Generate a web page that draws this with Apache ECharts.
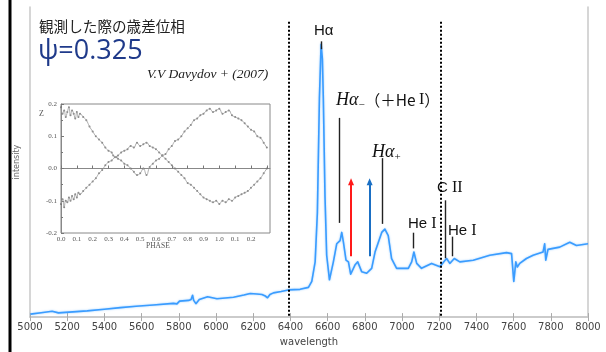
<!DOCTYPE html>
<html><head><meta charset="utf-8">
<script src="https://cdn.jsdelivr.net/npm/echarts@6/dist/echarts.min.js"></script>
<style>html,body{margin:0;padding:0;background:#fff}#c{width:606px;height:352px}</style>
</head><body><div id="c"></div>
<script>
// Spectrum: wavelength and intensity (arbitrary units)
const wavelength = [5003,5060,5119,5153,5230,5307,5400,5486,5570,5663,5771,5790,5804,5853,5866,5874,5880,5892,5910,5955,6005,6050,6094,6150,6184,6220,6247,6265,6277,6290,6309,6350,6389,6452,6497,6515,6533,6545,6556,6565,6572,6577,6586,6595,6610,6631,6649,6667,6676,6685,6699,6712,6724,6747,6762,6783,6810,6837,6855,6873,6891,6908,6926,6944,6971,7034,7052,7064,7079,7105,7159,7204,7225,7240,7257,7281,7311,7383,7472,7562,7589,7601,7612,7620,7633,7669,7705,7758,7767,7773,7785,7848,7902,7938,8000];
const intensity = [3,4.5,6,4.3,5.3,6.3,8,9.7,11,12.3,14,13.5,16.3,17,18,22.3,17,13.7,18,20.7,18.7,19.5,20.3,22.5,24,23.5,23,21.5,19.7,23,24.7,26,27.7,28.3,30.3,36.3,56.3,106.3,223,278,263,223,123,63,38,56.3,74.7,78,86.3,76.3,58,56.3,43.7,53,56.3,46.3,44.7,49.7,66.3,76.3,86.3,89.7,83,59.7,49.7,49.7,56.3,66.3,54.7,49.7,54.7,51.3,56.3,59.7,54.7,59.7,56.3,58,63,65.7,64.7,36.3,56.3,51,54.7,59.7,63,66.3,74.7,58,69,71.3,76.3,73,74.7];
const xTicks = {min:5000, max:8000, interval:200};

// Inset (Davydov 2007): Z vs PHASE, two branches
const branchA = [[0.00,0.19],[0.01,0.17],[0.02,0.18],[0.03,0.16],[0.04,0.175],[0.05,0.19],[0.06,0.165],[0.07,0.18],[0.08,0.17],[0.09,0.155],[0.10,0.175],[0.11,0.16],[0.12,0.17],[0.14,0.16],[0.16,0.15],[0.18,0.13],[0.20,0.115],[0.22,0.10],[0.24,0.09],[0.26,0.08],[0.28,0.065],[0.30,0.055],[0.32,0.05],[0.33,0.04],[0.35,0.035],[0.36,0.03],[0.38,0.025],[0.40,0.015],[0.42,0.01],[0.44,0.0],[0.46,-0.01],[0.48,-0.02],[0.50,-0.015],[0.52,0.0],[0.54,-0.02],[0.56,0.005],[0.58,0.015],[0.60,0.025],[0.62,0.03],[0.64,0.04],[0.66,0.045],[0.68,0.06],[0.70,0.07],[0.72,0.085],[0.74,0.09],[0.76,0.1],[0.78,0.115],[0.80,0.125],[0.82,0.135],[0.84,0.15],[0.86,0.155],[0.88,0.165],[0.90,0.17],[0.92,0.18],[0.94,0.185],[0.96,0.175],[0.98,0.18],[1.00,0.185],[1.02,0.17],[1.04,0.175],[1.06,0.18],[1.08,0.165],[1.10,0.16],[1.12,0.155],[1.14,0.15],[1.16,0.14],[1.18,0.13],[1.20,0.12],[1.22,0.115],[1.24,0.10],[1.26,0.095],[1.28,0.08],[1.30,0.065]];
const branchB = [[0.00,-0.11],[0.01,-0.095],[0.02,-0.12],[0.03,-0.10],[0.04,-0.105],[0.05,-0.09],[0.06,-0.1],[0.07,-0.085],[0.08,-0.095],[0.09,-0.08],[0.10,-0.09],[0.11,-0.075],[0.12,-0.08],[0.14,-0.07],[0.16,-0.06],[0.18,-0.05],[0.20,-0.04],[0.22,-0.03],[0.24,-0.015],[0.26,-0.005],[0.28,0.01],[0.30,0.02],[0.32,0.025],[0.34,0.035],[0.36,0.04],[0.38,0.05],[0.40,0.055],[0.42,0.06],[0.44,0.07],[0.46,0.065],[0.48,0.08],[0.50,0.07],[0.52,0.075],[0.54,0.08],[0.56,0.07],[0.58,0.065],[0.60,0.06],[0.62,0.05],[0.64,0.04],[0.66,0.03],[0.68,0.02],[0.70,0.01],[0.72,0.0],[0.74,-0.01],[0.76,-0.02],[0.78,-0.03],[0.80,-0.045],[0.82,-0.05],[0.84,-0.06],[0.86,-0.07],[0.88,-0.08],[0.90,-0.09],[0.92,-0.095],[0.94,-0.1],[0.96,-0.105],[0.98,-0.1],[1.00,-0.11],[1.02,-0.1],[1.04,-0.105],[1.06,-0.095],[1.08,-0.1],[1.10,-0.09],[1.12,-0.085],[1.14,-0.08],[1.16,-0.075],[1.18,-0.07],[1.20,-0.06],[1.22,-0.05],[1.24,-0.04],[1.26,-0.03],[1.28,-0.015],[1.30,0.0]];

// Reference lines and annotation markers (wavelength, intensity)
const dottedLines = [6389, 7209];
const dottedTop = 301;
const annotLines = [
  [[6565,281],[6565,273]],
  [[6660,203],[6660,96]],
  [[6896,162],[6896,95]],
  [[7063,86],[7063,70]],
  [[7234,119],[7234,60]],
  [[7272,82],[7272,62]]
];
const arrows = [
  {x:6726, from:62, to:138, color:'#ff1a1a'},
  {x:6826, from:62, to:138, color:'#1a6fc4'}
];

const chart = echarts.init(document.getElementById('c'));
const spec = wavelength.map((w,i)=>[w,intensity[i]]);
const sans = 'Liberation Sans, Arial, sans-serif';
const serif = 'Liberation Serif, Times New Roman, serif';

const mlData = [];
dottedLines.forEach(x=>mlData.push([{coord:[x,dottedTop],lineStyle:{type:[2,2],width:2,color:'#000'}},{coord:[x,0]}]));
annotLines.forEach(l=>mlData.push([{coord:l[0],lineStyle:{type:'solid',width:1.4,color:'#222'}},{coord:l[1]}]));
arrows.forEach(a=>mlData.push([{coord:[a.x,a.from],symbol:'none',lineStyle:{type:'solid',width:2,color:a.color}},{coord:[a.x,a.to],symbol:'triangle',symbolSize:[6,7],itemStyle:{color:a.color}}]));

const insetTickFmt = v => { if (v>1.25) return ''; let p = v>1.05 ? v-1 : v; return p.toFixed(1); };

chart.setOption({
  animation:false,
  backgroundColor:'#fff',
  grid:[
    {left:30, right:18, top:7, bottom:29},
    {left:61, top:104, width:209, height:129, show:true, borderColor:'#888', borderWidth:1, backgroundColor:'rgba(0,0,0,0)'}
  ],
  xAxis:[
    {gridIndex:0, type:'value', min:xTicks.min, max:xTicks.max, interval:xTicks.interval,
     axisLine:{lineStyle:{color:'#c8c8c8',width:1.5}}, axisTick:{inside:true,length:4,lineStyle:{color:'#aaa'}},
     axisLabel:{color:'#444',fontSize:10,fontFamily:'DejaVu Sans',margin:5,formatter:v=>String(v)}, splitLine:{show:false},
     name:'wavelength', nameLocation:'middle', nameGap:17, nameTextStyle:{color:'#444',fontSize:10,fontFamily:'DejaVu Sans'}},
    {gridIndex:0, type:'value', position:'top', min:xTicks.min, max:xTicks.max, interval:xTicks.interval,
     axisLine:{lineStyle:{color:'#c8c8c8',width:1.5}}, axisTick:{inside:true,length:4,lineStyle:{color:'#aaa'}},
     axisLabel:{show:false}, splitLine:{show:false}},
    {gridIndex:1, type:'value', min:0, max:1.32, interval:0.1,
     axisLine:{lineStyle:{color:'#888'}}, axisTick:{inside:true,length:3,lineStyle:{color:'#777'}},
     axisLabel:{color:'#555',fontSize:7,fontFamily:serif,margin:3,formatter:insetTickFmt,showMaxLabel:false}, splitLine:{show:false}}
  ],
  yAxis:[
    {gridIndex:0, type:'value', min:0, max:316, axisLine:{show:true,lineStyle:{color:'#c8c8c8',width:1.5}},
     axisTick:{show:false}, axisLabel:{show:false}, splitLine:{show:false},
     name:'intensity', nameLocation:'middle', nameGap:9, nameRotate:90, nameTextStyle:{color:'#666',fontSize:8,fontFamily:'DejaVu Sans'}},
    {gridIndex:0, type:'value', position:'right', min:0, max:316, axisLine:{show:true,lineStyle:{color:'#c8c8c8',width:1.5}},
     axisTick:{show:false}, axisLabel:{show:false}, splitLine:{show:false}},
    {gridIndex:1, type:'value', min:-0.2, max:0.2, interval:0.1,
     axisLine:{show:true,lineStyle:{color:'#888'}}, axisTick:{inside:true,length:3,lineStyle:{color:'#777'}},
     minorTick:{show:true,splitNumber:2,length:2,lineStyle:{color:'#777'}},
     axisLabel:{color:'#555',fontSize:7,fontFamily:serif,margin:4,formatter:v=>v.toFixed(1)}, splitLine:{show:false}}
  ],
  series:[
    {type:'line', xAxisIndex:0, yAxisIndex:0, data:spec, showSymbol:false,
     lineStyle:{color:'#3a9cff',width:1.6,join:'round',shadowColor:'rgba(80,170,255,0.6)',shadowBlur:2},
     markLine:{silent:true, symbol:'none', label:{show:false}, data:mlData}},
    {type:'line', xAxisIndex:2, yAxisIndex:2, data:branchA, showSymbol:false, smooth:true, lineStyle:{color:'#999',width:0.8}},
    {type:'line', xAxisIndex:2, yAxisIndex:2, data:branchB, showSymbol:false, smooth:true, lineStyle:{color:'#999',width:0.8}},
    {type:'scatter', xAxisIndex:2, yAxisIndex:2, data:branchA, symbol:'circle', symbolSize:2, itemStyle:{color:'#666'}},
    {type:'scatter', xAxisIndex:2, yAxisIndex:2, data:branchB, symbol:'circle', symbolSize:2, itemStyle:{color:'#666'}}
  ],
  graphic:[
    {type:'rect', shape:{x:8.5,y:0,width:3,height:352}, style:{fill:'#000'}},
    {type:'text', left:39, top:19, style:{text:'観測した際の歳差位相', fontSize:14.6, fontFamily:'Noto Sans CJK JP', fill:'#222'}},
    {type:'text', left:38, top:38, style:{text:'ψ=0.325', fontSize:27, fontFamily:'Open Sans', fill:'#1f3a8a'}},
    {type:'text', left:147, top:67, style:{text:'V.V Davydov + (2007)', fontSize:13.5, fontStyle:'italic', fontFamily:serif, fill:'#222'}},
    {type:'text', left:39, top:110, style:{text:'Z', fontSize:8, fontFamily:serif, fill:'#555'}},
    {type:'text', left:146, top:242, style:{text:'PHASE', fontSize:7.5, fontFamily:serif, fill:'#555'}},
    {type:'text', left:314, top:23, style:{text:'Hα', fontSize:15, fontFamily:sans, fill:'#111'}},
    {type:'text', left:336, top:91, style:{text:'{i|Hα}{s|−}{n|（＋He }{r|I}{n|）}', rich:{
      i:{fontSize:18,fontStyle:'italic',fontFamily:serif,fill:'#111'},
      s:{fontSize:11,fontFamily:serif,fill:'#111',padding:[10,0,0,0]},
      n:{fontSize:15.5,fontFamily:'Noto Sans CJK JP',fill:'#111'},
      r:{fontSize:16,fontFamily:serif,fill:'#111'}}}},
    {type:'text', left:372, top:143, style:{text:'{i|Hα}{s|+}', rich:{
      i:{fontSize:18,fontStyle:'italic',fontFamily:serif,fill:'#111'},
      s:{fontSize:11,fontFamily:serif,fill:'#111',padding:[10,0,0,0]}}}},
    {type:'text', left:408, top:216, style:{text:'{n|He }{r|I}', rich:{n:{fontSize:15,fontFamily:sans,fill:'#111'},r:{fontSize:16,fontFamily:serif,fill:'#111'}}}},
    {type:'text', left:437, top:180, style:{text:'{n|C }{r|II}', rich:{n:{fontSize:15,fontFamily:sans,fill:'#111'},r:{fontSize:16,fontFamily:serif,fill:'#111'}}}},
    {type:'text', left:448, top:223, style:{text:'{n|He }{r|I}', rich:{n:{fontSize:15,fontFamily:sans,fill:'#111'},r:{fontSize:16,fontFamily:serif,fill:'#111'}}}}
  ]
});
</script></body></html>
